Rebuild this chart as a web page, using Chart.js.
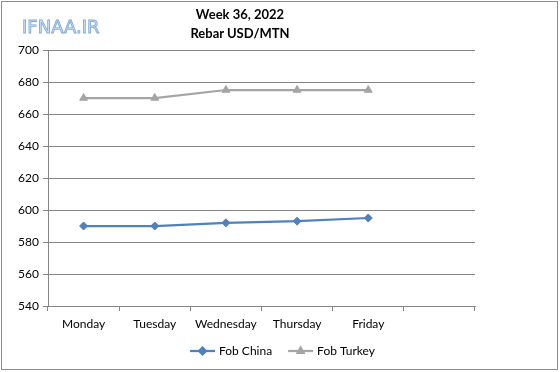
<!DOCTYPE html>
<html>
<head>
<meta charset="utf-8">
<script src="https://cdn.jsdelivr.net/npm/chart.js@4/dist/chart.umd.min.js"></script>
<style>
  html, body { margin: 0; padding: 0; background: #fff; }
  #wrap { position: relative; width: 560px; height: 372px; }
  #c { position: absolute; left: 0; top: 0; }
  #logo {
    position: absolute; left: 22px; top: 16px;
    font: 18px "DejaVu Sans", sans-serif;
    color: #d2e4f6; -webkit-text-stroke: 0.9px #82acd9;
  }
  .ttl {
    position: absolute; left: 140px; width: 200px; text-align: center;
    font: bold 13px Lato, "Open Sans", sans-serif; color: #000;
  }
</style>
</head>
<body>
<div id="wrap">
  <canvas id="c" width="560" height="372"></canvas>
  <div id="logo">IFNAA.IR</div>
  <div class="ttl" style="top:6px">Week 36, 2022</div>
  <div class="ttl" style="top:25px">Rebar USD/MTN</div>
</div>
<script>
// data
const days = ['Monday', 'Tuesday', 'Wednesday', 'Thursday', 'Friday', ''];
const fobChina = [590, 590, 592, 593, 595];
const fobTurkey = [670, 670, 675, 675, 675];
const yMin = 540, yMax = 700, yStep = 20;

const axisGrey = '#868686';
const labelFont = { family: 'Lato, "Open Sans", sans-serif', size: 12 };

// border round the whole picture + legend with line and marker
const extras = {
  id: 'extras',
  afterDraw(chart) {
    const ctx = chart.ctx;
    ctx.save();
    ctx.strokeStyle = '#8c8c8c';
    ctx.lineWidth = 1;
    ctx.strokeRect(1.5, 1.5, 556, 368);

    let x = 190;
    const y = 351;
    ctx.font = '12px ' + labelFont.family;
    ctx.textBaseline = 'middle';
    chart.data.datasets.forEach(ds => {
      ctx.strokeStyle = ds.borderColor;
      ctx.fillStyle = ds.backgroundColor;
      ctx.lineWidth = 2.25;
      ctx.beginPath();
      ctx.moveTo(x, y);
      ctx.lineTo(x + 25, y);
      ctx.stroke();
      Chart.helpers.drawPoint(ctx, {
        pointStyle: ds.pointStyle, radius: 3.5, borderWidth: 1
      }, x + 12.5, y);
      ctx.fillStyle = '#000';
      ctx.fillText(ds.label, x + 29, y);
      x += 29 + ctx.measureText(ds.label).width + 16;
    });
    ctx.restore();
  }
};

new Chart(document.getElementById('c'), {
  type: 'line',
  data: {
    labels: days,
    datasets: [
      {
        label: 'Fob China', data: fobChina,
        borderColor: '#4f81bd', backgroundColor: '#4f81bd',
        borderWidth: 2.25, pointStyle: 'rectRot', pointRadius: 4,
        pointBorderWidth: 1, tension: 0
      },
      {
        label: 'Fob Turkey', data: fobTurkey,
        borderColor: '#a5a5a5', backgroundColor: '#a5a5a5',
        borderWidth: 2.25, pointStyle: 'triangle', pointRadius: 4.5,
        pointBorderWidth: 1, tension: 0
      }
    ]
  },
  options: {
    responsive: false,
    animation: false,
    events: [],
    layout: { padding: { top: 50, right: 85, bottom: 36, left: 0 } },
    plugins: {
      legend: { display: false },
      title: { display: false },
      tooltip: { enabled: false }
    },
    scales: {
      x: {
        offset: true,
        grid: { offset: true, drawOnChartArea: false, drawTicks: true, tickLength: 5, color: axisGrey },
        border: { color: axisGrey },
        ticks: { color: '#000', font: labelFont, padding: 6, maxRotation: 0, autoSkip: false },
        afterFit: s => { s.height = 30; }
      },
      y: {
        min: yMin, max: yMax,
        grid: { color: axisGrey, tickLength: 5 },
        border: { color: axisGrey },
        ticks: { stepSize: yStep, color: '#000', font: labelFont, padding: 4 },
        afterFit: s => { s.width = 48; }
      }
    }
  },
  plugins: [extras]
});
</script>
</body>
</html>
